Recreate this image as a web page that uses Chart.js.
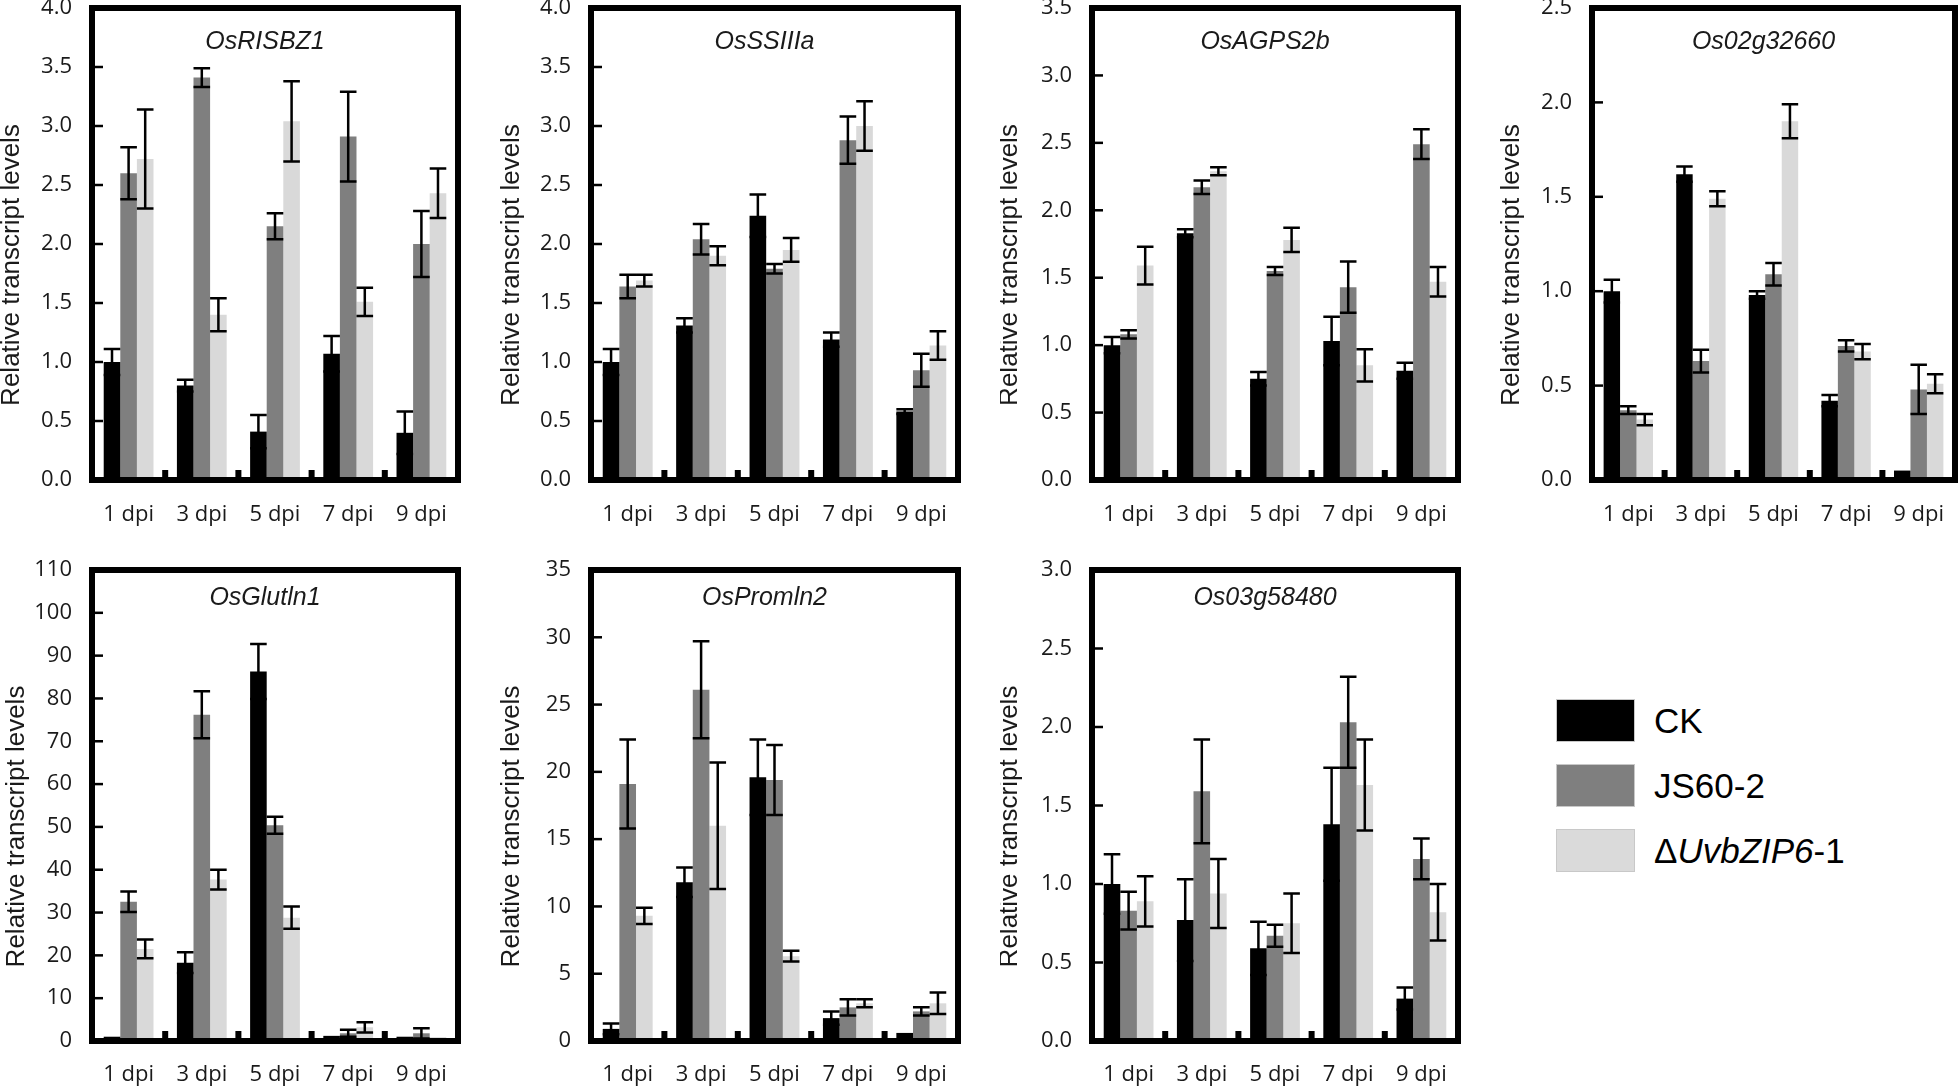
<!DOCTYPE html>
<html>
<head>
<meta charset="utf-8">
<script src="https://cdn.jsdelivr.net/npm/chart.js@4.4.0/dist/chart.umd.min.js"></script>
<style>
  body { margin: 0; width: 1960px; height: 1089px; background: #fff; position: relative; overflow: hidden; }
  .panel { position: absolute; }
  .legend { position: absolute; left: 1556px; top: 699px; font-family: "Liberation Sans", Arial, sans-serif; font-size: 35px; color: #000; }
  .legend .row { height: 43px; margin-bottom: 22px; display: flex; align-items: center; }
  .legend .sw { width: 79px; height: 43px; box-sizing: border-box; border: 1px solid #c8c8c8; margin-right: 19px; }
</style>
</head>
<body>
<div class="panel" style="left:0px;top:0px;width:470px;height:545px"><canvas id="c1"></canvas></div>
<div class="panel" style="left:499px;top:0px;width:470px;height:545px"><canvas id="c2"></canvas></div>
<div class="panel" style="left:1000px;top:0px;width:470px;height:545px"><canvas id="c3"></canvas></div>
<div class="panel" style="left:1500px;top:0px;width:460px;height:545px"><canvas id="c4"></canvas></div>
<div class="panel" style="left:0px;top:545px;width:470px;height:544px"><canvas id="c5"></canvas></div>
<div class="panel" style="left:499px;top:545px;width:470px;height:544px"><canvas id="c6"></canvas></div>
<div class="panel" style="left:1000px;top:545px;width:470px;height:544px"><canvas id="c7"></canvas></div>

<div class="legend">
  <div class="row"><span class="sw" style="background:#000"></span>CK</div>
  <div class="row"><span class="sw" style="background:#7f7f7f"></span>JS60-2</div>
  <div class="row"><span class="sw" style="background:#dadada"></span>&Delta;<i>UvbZIP6</i>-1</div>
</div>

<script>
const dpi = ['1 dpi', '3 dpi', '5 dpi', '7 dpi', '9 dpi'];
const seriesNames = ['CK', 'JS60-2', 'ΔUvbZIP6-1'];
const seriesColors = ['#000000', '#7f7f7f', '#d9d9d9'];
const genes = ['OsRISBZ1', 'OsSSIIIa', 'OsAGPS2b', 'Os02g32660', 'OsGlutln1', 'OsPromln2', 'Os03g58480'];
const yMax = [4, 4, 3.5, 2.5, 110, 35, 3];
const yStep = [0.5, 0.5, 0.5, 0.5, 10, 5, 0.5];

// OsRISBZ1
const risbz1CK = [1.00, 0.80, 0.41, 1.07, 0.40];
const risbz1CKErr = [0.11, 0.05, 0.14, 0.15, 0.18];
const risbz1JS = [2.60, 3.41, 2.15, 2.91, 2.00];
const risbz1JSErr = [0.22, 0.08, 0.11, 0.38, 0.28];
const risbz1DZ = [2.72, 1.40, 3.04, 1.51, 2.43];
const risbz1DZErr = [0.42, 0.14, 0.34, 0.12, 0.21];

// OsSSIIIa
const ss3aCK = [1.00, 1.31, 2.24, 1.19, 0.58];
const ss3aCKErr = [0.11, 0.06, 0.18, 0.06, 0.02];
const ss3aJS = [1.64, 2.04, 1.79, 2.88, 0.93];
const ss3aJSErr = [0.10, 0.13, 0.04, 0.20, 0.14];
const ss3aDZ = [1.69, 1.90, 1.95, 3.00, 1.14];
const ss3aDZErr = [0.05, 0.08, 0.10, 0.21, 0.12];

// OsAGPS2b
const agpsCK = [1.00, 1.83, 0.75, 1.03, 0.81];
const agpsCKErr = [0.06, 0.03, 0.05, 0.18, 0.06];
const agpsJS = [1.08, 2.17, 1.55, 1.43, 2.49];
const agpsJSErr = [0.03, 0.05, 0.03, 0.19, 0.11];
const agpsDZ = [1.59, 2.29, 1.78, 0.85, 1.47];
const agpsDZErr = [0.14, 0.03, 0.09, 0.12, 0.11];

// Os02g32660
const g02CK = [1.00, 1.62, 0.98, 0.42, 0.05];
const g02CKErr = [0.06, 0.04, 0.02, 0.03, 0];
const g02JS = [0.37, 0.63, 1.09, 0.71, 0.48];
const g02JSErr = [0.02, 0.06, 0.06, 0.03, 0.13];
const g02DZ = [0.32, 1.49, 1.90, 0.68, 0.51];
const g02DZErr = [0.03, 0.04, 0.09, 0.04, 0.05];

// OsGlutln1
const glutCK = [1.0, 18.3, 86.3, 1.2, 1.0];
const glutCKErr = [0, 2.4, 6.4, 0, 0];
const glutJS = [32.5, 76.2, 50.4, 1.8, 1.8];
const glutJSErr = [2.4, 5.5, 2.0, 0.8, 1.2];
const glutDZ = [21.5, 37.7, 28.8, 3.2, 0.9];
const glutDZErr = [2.2, 2.3, 2.6, 1.2, 0];

// OsPromln2
const promCK = [0.9, 11.8, 19.6, 1.7, 0.6];
const promCKErr = [0.4, 1.1, 2.8, 0.5, 0];
const promJS = [19.1, 26.1, 19.4, 2.5, 2.2];
const promJSErr = [3.3, 3.6, 2.6, 0.6, 0.3];
const promDZ = [9.3, 16.0, 6.3, 2.8, 2.8];
const promDZErr = [0.6, 4.7, 0.4, 0.3, 0.8];

// Os03g58480
const g03CK = [1.00, 0.77, 0.59, 1.38, 0.27];
const g03CKErr = [0.19, 0.26, 0.17, 0.36, 0.07];
const g03JS = [0.83, 1.59, 0.67, 2.03, 1.16];
const g03JSErr = [0.12, 0.33, 0.07, 0.29, 0.13];
const g03DZ = [0.89, 0.94, 0.75, 1.63, 0.82];
const g03DZErr = [0.16, 0.22, 0.19, 0.29, 0.18];

const values = [
  [risbz1CK, risbz1JS, risbz1DZ],
  [ss3aCK, ss3aJS, ss3aDZ],
  [agpsCK, agpsJS, agpsDZ],
  [g02CK, g02JS, g02DZ],
  [glutCK, glutJS, glutDZ],
  [promCK, promJS, promDZ],
  [g03CK, g03JS, g03DZ]
];
const errors = [
  [risbz1CKErr, risbz1JSErr, risbz1DZErr],
  [ss3aCKErr, ss3aJSErr, ss3aDZErr],
  [agpsCKErr, agpsJSErr, agpsDZErr],
  [g02CKErr, g02JSErr, g02DZErr],
  [glutCKErr, glutJSErr, glutDZErr],
  [promCKErr, promJSErr, promDZErr],
  [g03CKErr, g03JSErr, g03DZErr]
];

// layout per panel (canvas-relative)
const padTop = [8, 8, 8, 8, 25, 25, 25];
const padRight = [12, 11, 12, 5, 12, 11, 12];
const xHeight = [65, 65, 65, 65, 48, 48, 48];
const xPad = [22, 22, 22, 22, 21, 21, 21];
const geneY = [34, 34, 34, 34, 28, 28, 28];
const yTitleX = [12, 13, 10, 12, 17, 13, 10];

// error bars, inner ticks, thick frame, gene name and y title
const frame = {
  id: 'frame',
  afterDatasetsDraw(chart, args, opts) {
    const ctx = chart.ctx, a = chart.chartArea;
    const x = chart.scales.x, y = chart.scales.y;
    ctx.save();
    ctx.strokeStyle = '#000';
    ctx.lineWidth = 2.5;
    chart.data.datasets.forEach((ds, i) => {
      chart.getDatasetMeta(i).data.forEach((bar, j) => {
        const e = ds.errors[j];
        if (!e) return;
        const yt = y.getPixelForValue(ds.data[j] + e);
        const yb = y.getPixelForValue(ds.data[j] - e);
        const h = bar.width / 2;
        ctx.beginPath();
        ctx.moveTo(bar.x, yt); ctx.lineTo(bar.x, yb);
        ctx.moveTo(bar.x - h, yt); ctx.lineTo(bar.x + h, yt);
        ctx.moveTo(bar.x - h, yb); ctx.lineTo(bar.x + h, yb);
        ctx.stroke();
      });
    });

    y.ticks.forEach(t => {
      const py = y.getPixelForValue(t.value);
      ctx.beginPath();
      ctx.moveTo(a.left, py); ctx.lineTo(a.left + 11, py);
      ctx.stroke();
    });

    ctx.fillStyle = '#000';
    for (let k = 0; k <= chart.data.labels.length; k++) {
      const px = x.getPixelForValue(k - 0.5);
      ctx.fillRect(px - 3, a.bottom - 10, 6, 10);
    }

    ctx.lineWidth = 6;
    ctx.strokeRect(a.left, a.top, a.right - a.left, a.bottom - a.top);

    ctx.fillStyle = '#1a1a1a';
    ctx.textAlign = 'center';
    ctx.textBaseline = 'middle';
    ctx.font = 'italic 25px "Liberation Sans", Arial, sans-serif';
    ctx.fillText(opts.gene, (a.left + a.right) / 2 - 10, a.top + opts.geneY);

    ctx.font = '26px "Liberation Sans", Arial, sans-serif';
    ctx.translate(opts.titleX, (a.top + a.bottom) / 2 + 21);
    ctx.rotate(-Math.PI / 2);
    ctx.fillText('Relative transcript levels', 0, 0);
    ctx.restore();
  }
};

genes.forEach((gene, i) => {
  new Chart(document.getElementById('c' + (i + 1)), {
    type: 'bar',
    data: {
      labels: dpi,
      datasets: seriesNames.map((name, s) => ({
        label: name,
        data: values[i][s],
        errors: errors[i][s],
        backgroundColor: seriesColors[s],
        borderWidth: 0,
        categoryPercentage: 0.68,
        barPercentage: 1
      }))
    },
    options: {
      responsive: true,
      maintainAspectRatio: false,
      animation: false,
      layout: { padding: { top: padTop[i], right: padRight[i], left: 0, bottom: 0 } },
      plugins: {
        legend: { display: false },
        tooltip: { enabled: false },
        frame: { gene: gene, titleX: yTitleX[i], geneY: geneY[i] }
      },
      scales: {
        x: {
          grid: { display: false, drawTicks: false },
          border: { display: false },
          ticks: { color: '#1a1a1a', font: { family: 'Open Sans', size: 22 }, padding: xPad[i], maxRotation: 0, autoSkip: false },
          afterFit: s => { s.height = xHeight[i]; s.paddingLeft = 0; s.paddingRight = 0; }
        },
        y: {
          min: 0,
          max: yMax[i],
          grid: { display: false, drawTicks: false },
          border: { display: false },
          ticks: {
            stepSize: yStep[i],
            color: '#1a1a1a',
            font: { family: 'Open Sans', size: 22 },
            padding: 20,
            callback: v => yStep[i] < 1 ? v.toFixed(1) : String(v)
          },
          afterFit: s => { s.width = 92; s.paddingTop = 0; s.paddingBottom = 0; }
        }
      }
    },
    plugins: [frame]
  });
});
</script>
</body>
</html>
